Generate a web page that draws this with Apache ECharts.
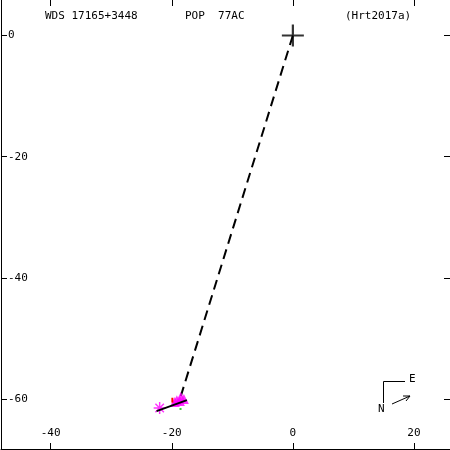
<!DOCTYPE html>
<html>
<head>
<meta charset="utf-8">
<script src="https://cdn.jsdelivr.net/npm/echarts@6/dist/echarts.min.js"></script>
<style>html,body{margin:0;padding:0;background:#fff;}#c{width:450px;height:450px;}</style>
</head>
<body>
<div id="c"></div>
<script>
// ---- data ----
var titleTexts = ['WDS 17165+3448', 'POP  77AC', '(Hrt2017a)'];
var xTicks = [-40, -20, 0, 20];
var yTicks = [-60, -40, -20, 0];
var xRange = [-48.2, 25.95];
var yRange = [-68.26, 5.86];
var primary = [[0, 0]];
var dashedLine = [[0, 0], [-18.5, -59.5]];
var fitLine = [[-22.5, -62.0], [-17.5, -60.2]];
var triangles = [[-19.16, -60.2], [-18.5, -59.67], [-18.0, -60.0], [-18.66, -60.33], [-19.5, -60.5]];
var stars = [[-22.0, -61.5]];
var residual = [[-19.9, -59.8], [-19.9, -60.6]];
var greenDot = [[-18.55, -61.65]];

var FONT = 'DejaVu Sans Mono';
var chart = echarts.init(document.getElementById('c'), null, {renderer: 'canvas'});
var plusPath = 'path://M-1,-0.1 H1 V0.1 H-1 Z M-0.1,-1 H0.1 V1 H-0.1 Z';
var starPath = 'path://M-1,-0.12 H1 V0.12 H-1 Z M-0.12,-1 H0.12 V1 H-0.12 Z M-0.79,-0.62 L-0.62,-0.79 L0.79,0.62 L0.62,0.79 Z M0.79,-0.62 L-0.62,0.79 L-0.79,0.62 L0.62,-0.79 Z';

function axisCommon(extra) {
  return Object.assign({
    type: 'value',
    splitLine: {show: false}
  }, extra);
}
var tickStyle = function (vals) {
  return {show: true, inside: true, length: 6, customValues: vals, lineStyle: {color: '#000', width: 1}};
};

var option = {
  animation: false,
  backgroundColor: '#fff',
  grid: {left: 1, right: 0, top: 0, bottom: 1, containLabel: false},
  xAxis: [
    axisCommon({
      position: 'bottom', min: xRange[0], max: xRange[1],
      axisLine: {show: true, onZero: false, lineStyle: {color: '#000', width: 1}},
      axisTick: tickStyle(xTicks),
      axisLabel: {show: true, inside: true, margin: 10, customValues: xTicks, color: '#000', fontFamily: FONT, fontSize: 11}
    }),
    axisCommon({
      position: 'top', min: xRange[0], max: xRange[1],
      axisLine: {show: false, onZero: false},
      axisTick: tickStyle(xTicks),
      axisLabel: {show: false}
    })
  ],
  yAxis: [
    axisCommon({
      position: 'left', min: yRange[0], max: yRange[1],
      axisLine: {show: true, onZero: false, lineStyle: {color: '#000', width: 1}},
      axisTick: tickStyle(yTicks),
      axisLabel: {show: true, inside: true, margin: 7, customValues: yTicks, color: '#000', fontFamily: FONT, fontSize: 11, align: 'left'}
    }),
    axisCommon({
      position: 'right', min: yRange[0], max: yRange[1],
      axisLine: {show: false, onZero: false},
      axisTick: tickStyle(yTicks),
      axisLabel: {show: false}
    })
  ],
  graphic: [
    {type: 'text', left: 45, top: 11, style: {text: titleTexts[0], font: '11px ' + FONT, fill: '#000'}},
    {type: 'text', left: 185, top: 11, style: {text: titleTexts[1], font: '11px ' + FONT, fill: '#000'}},
    {type: 'text', left: 345, top: 11, style: {text: titleTexts[2], font: '11px ' + FONT, fill: '#000'}},
    // compass
    {type: 'polyline', shape: {points: [[405, 381.5], [383.5, 381.5], [383.5, 403]]}, style: {stroke: '#000', lineWidth: 1, fill: null}},
    {type: 'text', x: 409, y: 374, style: {text: 'E', font: '11px ' + FONT, fill: '#000'}},
    {type: 'text', x: 378, y: 404, style: {text: 'N', font: '11px ' + FONT, fill: '#000'}},
    {type: 'polyline', shape: {points: [[392, 404], [410, 396]]}, style: {stroke: '#000', lineWidth: 1, fill: null}},
    {type: 'polyline', shape: {points: [[403, 396], [410, 396], [406, 401]]}, style: {stroke: '#000', lineWidth: 1, fill: null}}
  ],
  series: [
    {type: 'line', data: dashedLine, showSymbol: false, symbol: 'none', z: 2,
     lineStyle: {color: '#000', width: 2, type: [10, 6]}},
    {type: 'scatter', data: triangles, symbol: 'triangle', symbolSize: 10, z: 3,
     itemStyle: {color: '#ff00ff'}},
    {type: 'scatter', data: stars, symbol: starPath, symbolSize: 12, z: 3,
     itemStyle: {color: '#ff00ff'}},
    {type: 'line', data: residual, symbol: 'none', z: 4,
     lineStyle: {color: '#ff0000', width: 2}},
    {type: 'line', data: fitLine, symbol: 'none', z: 5,
     lineStyle: {color: '#000', width: 2}},
    {type: 'scatter', data: greenDot, symbol: 'rect', symbolSize: 2, z: 5,
     itemStyle: {color: '#00cc00'}},
    {type: 'scatter', data: primary, symbol: plusPath, symbolSize: 22, z: 6,
     itemStyle: {color: '#000'}}
  ]
};
chart.setOption(option);
</script>
</body>
</html>
